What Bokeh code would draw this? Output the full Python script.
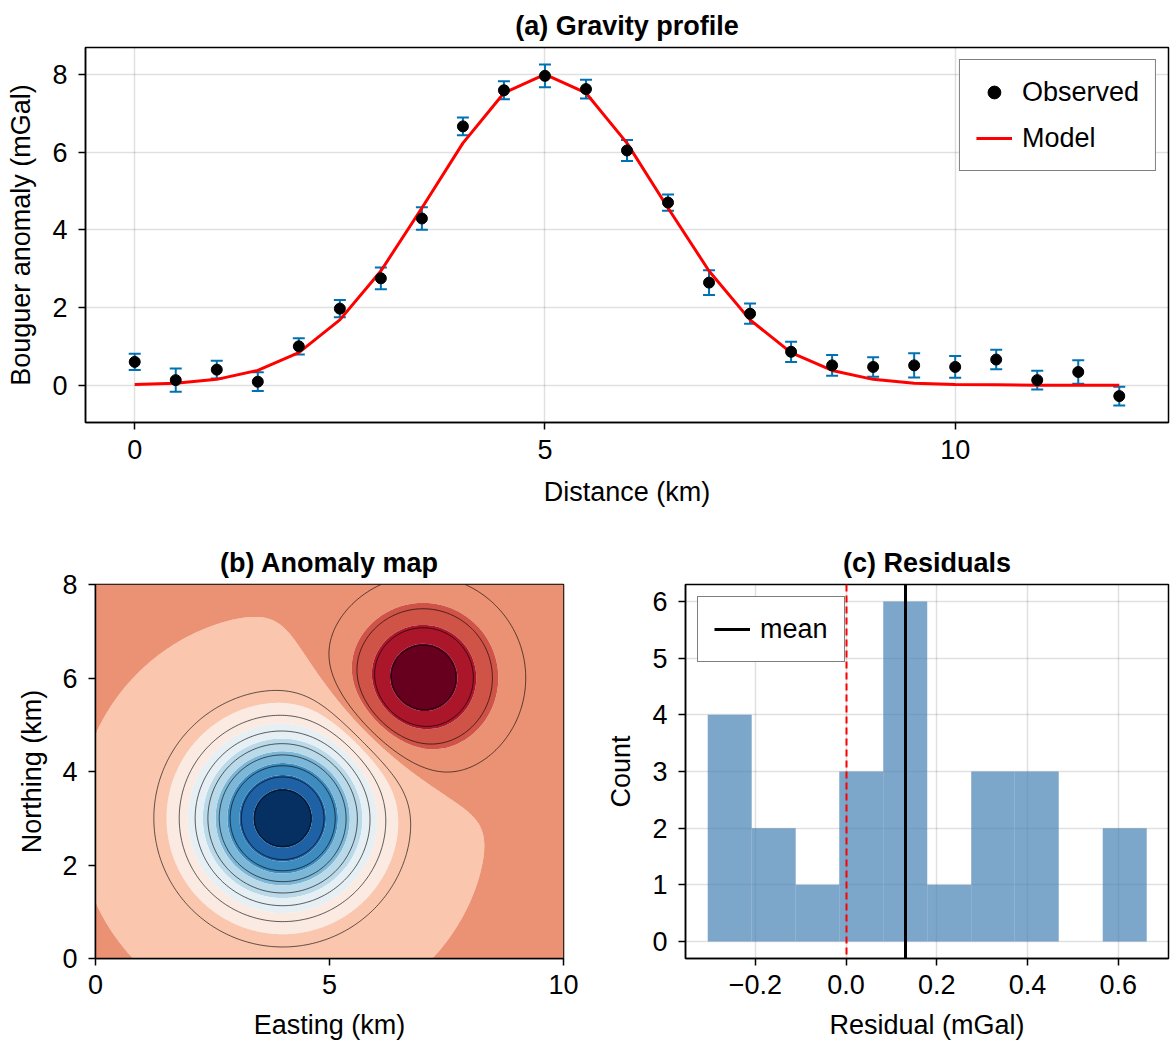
import numpy as np
from bokeh.plotting import figure
from bokeh.layouts import column, row
from bokeh.models import (ColumnDataSource, Whisker, TeeHead, Range1d, FixedTicker,
                          CustomJSTickFormatter, Legend, LegendItem)
from bokeh.embed import file_html
from bokeh.resources import INLINE

# ---------------- data: (a) gravity profile ----------------
distance = [0.0, 0.5, 1.0, 1.5, 2.0, 2.5, 3.0, 3.5, 4.0, 4.5, 5.0, 5.5, 6.0,
            6.5, 7.0, 7.5, 8.0, 8.5, 9.0, 9.5, 10.0, 10.5, 11.0, 11.5, 12.0]
observed = [0.60, 0.13, 0.40, 0.09, 1.00, 1.97, 2.75, 4.29, 6.66, 7.59, 7.96, 7.62, 6.04,
            4.70, 2.64, 1.84, 0.86, 0.51, 0.47, 0.51, 0.47, 0.66, 0.13, 0.34, -0.28]
obs_error = [0.21, 0.30, 0.23, 0.24, 0.21, 0.22, 0.28, 0.29, 0.23, 0.23, 0.29, 0.24, 0.27,
             0.21, 0.32, 0.26, 0.26, 0.27, 0.25, 0.31, 0.28, 0.25, 0.24, 0.30, 0.24]
model = [0.02, 0.05, 0.15, 0.38, 0.84, 1.68, 2.94, 4.56, 6.23, 7.52, 8.00, 7.52, 6.23,
         4.56, 2.94, 1.68, 0.84, 0.38, 0.15, 0.05, 0.02, 0.01, 0.00, 0.00, 0.00]
profile_xticks = [0, 5, 10]
profile_yticks = [0, 2, 4, 6, 8]

# ---------------- data: (b) anomaly map (two buried sources) ----------------
source_east = [4.0, 7.0]
source_north = [3.0, 6.0]
source_amp = [-1.0, 0.5]
source_width = [1.22, 0.96]
map_xticks = [0, 5, 10]
map_yticks = [0, 2, 4, 6, 8]

# ---------------- data: (c) residual histogram ----------------
bin_edges = [-0.305, -0.208, -0.111, -0.015, 0.082, 0.179, 0.276, 0.372, 0.469, 0.566, 0.663]
bin_counts = [4, 2, 1, 3, 6, 1, 3, 3, 0, 2]
mean_residual = 0.131
hist_xticks = [-0.2, 0.0, 0.2, 0.4, 0.6]
hist_yticks = [0, 1, 2, 3, 4, 5, 6]

FONT = "Liberation Sans"
FS = "27px"
TFS = "27px"

RDBU = ["#053061", "#2166ac", "#4393c3", "#92c5de", "#d1e5f0", "#f7f7f7",
        "#fddbc7", "#f4a582", "#d6604d", "#b2182b", "#67001f"]


def cmap(t):
    pos = min(max(t, 0.0), 1.0) * (len(RDBU) - 1)
    i = min(int(pos), len(RDBU) - 2)
    f = pos - i
    a = [int(RDBU[i][k:k + 2], 16) for k in (1, 3, 5)]
    b = [int(RDBU[i + 1][k:k + 2], 16) for k in (1, 3, 5)]
    c = [round(a[j] + (b[j] - a[j]) * f) for j in range(3)]
    return "#%02x%02x%02x" % tuple(c)


def style(p, title, xstand=(10, 15), ystand=(11, 13)):
    p.title.text = title
    p.title.align = "center"
    p.title.text_font = FONT
    p.title.text_font_size = TFS
    p.title.text_font_style = "bold"
    p.title.text_color = "black"
    p.title.standoff = 13
    p.outline_line_color = "black"
    p.outline_line_width = 1.5
    p.outline_line_alpha = 1.0
    p.background_fill_color = "white"
    p.border_fill_color = "white"
    for ax, st in [(a, xstand) for a in p.xaxis] + [(a, ystand) for a in p.yaxis]:
        ax.axis_line_width = 1.5
        ax.axis_line_color = "black"
        ax.major_tick_line_width = 1.5
        ax.major_tick_line_color = "black"
        ax.major_tick_out = 7
        ax.major_tick_in = 0
        ax.minor_tick_out = 0
        ax.minor_tick_in = 0
        ax.major_label_text_font = FONT
        ax.major_label_text_font_size = FS
        ax.major_label_text_color = "black"
        ax.major_label_standoff = st[0]
        ax.axis_label_text_font = FONT
        ax.axis_label_text_font_size = FS
        ax.axis_label_text_font_style = "normal"
        ax.axis_label_text_color = "black"
        ax.axis_label_standoff = st[1]
    p.grid.grid_line_color = "black"
    p.grid.grid_line_alpha = 0.12
    p.grid.grid_line_width = 1.5


def style_legend(leg):
    leg.margin = 12
    leg.padding = 16
    leg.spacing = 14
    leg.glyph_width = 36
    leg.glyph_height = 32
    leg.label_height = 32
    leg.label_standoff = 10
    leg.label_text_font = FONT
    leg.label_text_font_size = FS
    leg.label_text_color = "black"
    leg.border_line_color = "black"
    leg.border_line_width = 1.5
    leg.background_fill_alpha = 1.0


# ================= (a) =================
p1 = figure(width=1170, height=525, output_backend="svg", toolbar_location=None,
            x_range=Range1d(-0.6, 12.6), y_range=Range1d(-0.96, 8.69),
            min_border_left=85, min_border_right=2, min_border_top=47, min_border_bottom=103)
style(p1, "(a) Gravity profile")
p1.xaxis.axis_label = "Distance (km)"
p1.yaxis.axis_label = "Bouguer anomaly (mGal)"
p1.xaxis.ticker = FixedTicker(ticks=profile_xticks)
p1.yaxis.ticker = FixedTicker(ticks=profile_yticks)

src = ColumnDataSource(dict(
    x=distance, y=observed, model=model,
    upper=[o + e for o, e in zip(observed, obs_error)],
    lower=[o - e for o, e in zip(observed, obs_error)],
))
err_col = "#0072b2"
wh = Whisker(base="x", upper="upper", lower="lower", source=src,
             line_color=err_col, line_width=2,
             upper_head=TeeHead(size=12, line_color=err_col, line_width=2),
             lower_head=TeeHead(size=12, line_color=err_col, line_width=2))
p1.add_layout(wh)
r_model = p1.line("x", "model", source=src, line_color="red", line_width=3)
r_obs = p1.scatter("x", "y", source=src, size=11, fill_color="black", line_color="black")

leg1 = Legend(items=[LegendItem(label="Observed", renderers=[r_obs]),
                     LegendItem(label="Model", renderers=[r_model])],
              location="top_right")
style_legend(leg1)
p1.add_layout(leg1)

# ================= (b) =================
p2 = figure(width=580, height=522, output_backend="svg", toolbar_location=None,
            x_range=Range1d(0, 10), y_range=Range1d(0, 8),
            min_border_left=95, min_border_right=17, min_border_top=59, min_border_bottom=89)
style(p2, "(b) Anomaly map", xstand=(9, 13), ystand=(11, 12))
p2.xaxis.axis_label = "Easting (km)"
p2.yaxis.axis_label = "Northing (km)"
p2.xaxis.ticker = FixedTicker(ticks=map_xticks)
p2.yaxis.ticker = FixedTicker(ticks=map_yticks)

gx = np.linspace(0, 10, 251)
gy = np.linspace(0, 8, 201)
X, Y = np.meshgrid(gx, gy)
Z = np.zeros_like(X)
for e, n, a, w in zip(source_east, source_north, source_amp, source_width):
    Z += a * np.exp(-((X - e) ** 2 + (Y - n) ** 2) / (2 * w * w))

zmin, zmax = float(Z.min()), float(Z.max())
fill_levels = list(np.linspace(zmin - 1e-9, zmax + 1e-9, 13))
n_bands = len(fill_levels) - 1
fill_colors = [cmap(i / (n_bands - 1)) for i in range(n_bands)]
line_levels = list(np.linspace(zmin, zmax, 14)[1:-1])

p2.contour(gx, gy, Z, fill_levels, fill_color=fill_colors, line_color=None)
p2.contour(gx, gy, Z, line_levels, fill_color=None, line_color="black",
           line_width=0.7, line_alpha=0.9)

# ================= (c) =================
p3 = figure(width=590, height=522, output_backend="svg", toolbar_location=None,
            x_range=Range1d(-0.354, 0.711), y_range=Range1d(-0.3, 6.3),
            min_border_left=105, min_border_right=2, min_border_top=59, min_border_bottom=89)
style(p3, "(c) Residuals", xstand=(9, 13))
p3.xaxis.axis_label = "Residual (mGal)"
p3.yaxis.axis_label = "Count"
p3.xaxis.ticker = FixedTicker(ticks=hist_xticks)
p3.yaxis.ticker = FixedTicker(ticks=hist_yticks)
p3.xaxis.formatter = CustomJSTickFormatter(
    code="return tick.toFixed(1).replace('-', '\u2212');")

hsrc = ColumnDataSource(dict(left=bin_edges[:-1], right=bin_edges[1:],
                             top=bin_counts, bottom=[0] * len(bin_counts)))
p3.quad(left="left", right="right", top="top", bottom="bottom", source=hsrc,
        fill_color="steelblue", fill_alpha=0.7, line_color=None)
p3.vspan(x=[0.0], line_color="red", line_width=2, line_dash="7 4")
r_mean = p3.vspan(x=[mean_residual], line_color="black", line_width=3)

leg3 = Legend(items=[LegendItem(label="mean", renderers=[r_mean])], location="top_left")
style_legend(leg3)
p3.add_layout(leg3)

layout = column(p1, row(p2, p3))
open("out.html", "w").write(file_html(layout, INLINE))
